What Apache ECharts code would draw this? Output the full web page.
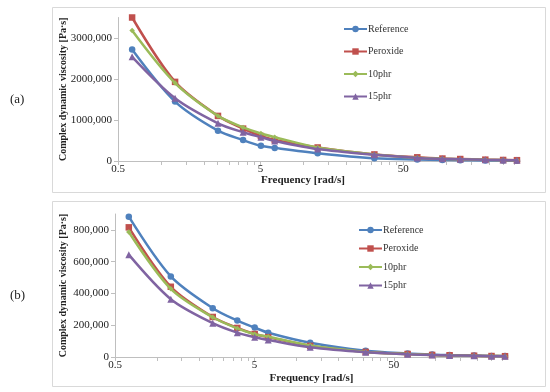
<!DOCTYPE html>
<html>
<head>
<meta charset="utf-8">
<script src="https://cdn.jsdelivr.net/npm/echarts@6/dist/echarts.min.js"></script>
<style>html,body{margin:0;padding:0;background:#fff;}#c{width:550px;height:392px;}</style>
</head>
<body>
<div id="c"></div>
<script>
// Frequencies [rad/s]
var freq = [0.628, 1.257, 2.513, 3.770, 5.027, 6.283, 12.57, 31.42, 62.83, 94.25, 125.7, 188.5, 251.3, 314.2];
var seriesNames = ['Reference', 'Peroxide', '10phr', '15phr'];

// Panel (a) complex dynamic viscosity [Pa·s]
var refA   = [2720000, 1450000, 740000, 510000, 370000, 320000, 190000, 66000, 35000, 25000, 20000, 14000, 10000, 8000];
var peroxA = [3500000, 1930000, 1100000, 790000, 610000, 510000, 330000, 160000, 90000, 60000, 48000, 33000, 25000, 20000];
var tenA   = [3180000, 1900000, 1100000, 820000, 670000, 580000, 330000, 160000, 80000, 55000, 44000, 30000, 23000, 18000];
var p15A   = [2540000, 1530000, 920000, 700000, 580000, 490000, 290000, 150000, 75000, 52000, 42000, 29000, 22000, 17000];

// Panel (b)
var refB   = [883000, 507000, 307000, 229000, 185000, 153000, 90000, 40000, 22000, 15000, 12000, 9000, 7000, 6000];
var peroxB = [816000, 442000, 252000, 183000, 145000, 125000, 70000, 32000, 19000, 13000, 11000, 8000, 6000, 5000];
var tenB   = [787000, 429000, 250000, 180000, 143000, 128000, 72000, 32000, 19000, 13000, 11000, 8000, 6000, 5000];
var p15B   = [644000, 364000, 213000, 153000, 124000, 107000, 61000, 30000, 18000, 12000, 10000, 7500, 5500, 4500];

// Axis tick labels
var xLabelValues = [0.5, 5, 50];
var xTickValues = [0.5, 1, 1.5, 2, 2.5, 3, 3.5, 4, 4.5, 5, 10, 15, 20, 25, 30, 35, 40, 45, 50, 100, 150, 200, 250, 300];

var colors = ['#4F81BD', '#C0504D', '#9BBB59', '#8064A2'];
var symbols = ['circle', 'rect', 'diamond', 'triangle'];
var symbolSizes = [6.5, 6.5, 5.5, 7];
var FONT = "'Liberation Serif', 'Times New Roman', serif";

function pairs(vals) { return freq.map(function (f, i) { return [f, vals[i]]; }); }
function yFmt(v) { return v === 0 ? '0' : (v / 1000) + ',000'; }

function mkX(gi, nameGap, namePad) {
  return {
    type: 'log', gridIndex: gi, min: 0.5, max: 330, logBase: 10,
    name: 'Frequency [rad/s]', nameLocation: 'middle', nameGap: nameGap, nameMoveOverlap: false,
    nameTextStyle: { fontFamily: FONT, fontSize: 11, fontWeight: 'bold', color: '#222', padding: namePad },
    axisLine: { show: true, lineStyle: { color: '#bfbfbf', width: 1 } },
    axisTick: { show: true, customValues: xTickValues, length: 4, inside: false, lineStyle: { color: '#bfbfbf' } },
    axisLabel: { customValues: xLabelValues, fontFamily: FONT, fontSize: 11, color: '#222', margin: 3,
      formatter: function (v) { return String(v); } },
    splitLine: { show: false }, minorTick: { show: false }
  };
}
function mkY(gi, max, interval, nameGap) {
  return {
    type: 'value', gridIndex: gi, min: 0, max: max, interval: interval,
    name: 'Complex dynamic viscosity [Pa\u00b7s]', nameLocation: 'middle', nameGap: nameGap, nameMoveOverlap: false,
    nameTextStyle: { fontFamily: FONT, fontSize: 10, fontWeight: 'bold', color: '#222' },
    axisLine: { show: true, lineStyle: { color: '#bfbfbf', width: 1 } },
    axisTick: { show: true, length: 4, inside: false, lineStyle: { color: '#bfbfbf' } },
    axisLabel: { fontFamily: FONT, fontSize: 11, color: '#222', margin: 6, formatter: yFmt, showMaxLabel: false },
    splitLine: { show: false }
  };
}
function mkSeries(gi, sets) {
  return sets.map(function (vals, k) {
    return {
      name: seriesNames[k], type: 'line', xAxisIndex: gi, yAxisIndex: gi,
      data: pairs(vals), smooth: 0.3,
      symbol: symbols[k], symbolSize: symbolSizes[k], showAllSymbol: true,
      lineStyle: { color: colors[k], width: 2.5 },
      itemStyle: { color: colors[k], borderColor: colors[k], borderWidth: 0 },
      emphasis: { disabled: true }, z: 2 + k
    };
  });
}
function mkLegend(left, top, gap) {
  return {
    orient: 'vertical', left: left, top: top, padding: 0, itemWidth: 23, itemHeight: 8, itemGap: gap,
    data: seriesNames, selectedMode: false,
    textStyle: { fontFamily: FONT, fontSize: 10, color: '#333', lineHeight: 12, padding: [0, 0, 0, -4] }
  };
}

var chart = echarts.init(document.getElementById('c'), null, { renderer: 'canvas' });
chart.setOption({
  backgroundColor: '#ffffff',
  animation: false,
  grid: [
    { left: 118, right: 30, top: 17.5, bottom: 231, containLabel: false, outerBoundsMode: 'none' },
    { left: 115, right: 42, top: 214, bottom: 35, containLabel: false, outerBoundsMode: 'none' }
  ],
  xAxis: [mkX(0, 14, [0, 32, 0, 0]), mkX(1, 16, [0, 0, 0, 0])],
  yAxis: [mkY(0, 3500000, 1000000, 50), mkY(1, 900000, 200000, 47)],
  legend: [mkLegend(343, 23, 10.5), mkLegend(358, 224, 6.5)],
  graphic: [
    { type: 'rect', shape: { x: 52.5, y: 7.5, width: 493, height: 185 }, style: { fill: 'none', stroke: '#d9d9d9', lineWidth: 1 }, z: -1 },
    { type: 'rect', shape: { x: 52.5, y: 201.5, width: 493, height: 185 }, style: { fill: 'none', stroke: '#d9d9d9', lineWidth: 1 }, z: -1 },
    { type: 'text', left: 10, top: 93, style: { text: '(a)', font: '13px ' + FONT, fill: '#222' } },
    { type: 'text', left: 10, top: 289, style: { text: '(b)', font: '13px ' + FONT, fill: '#222' } }
  ],
  series: mkSeries(0, [refA, peroxA, tenA, p15A]).concat(mkSeries(1, [refB, peroxB, tenB, p15B]))
});
</script>
</body>
</html>
